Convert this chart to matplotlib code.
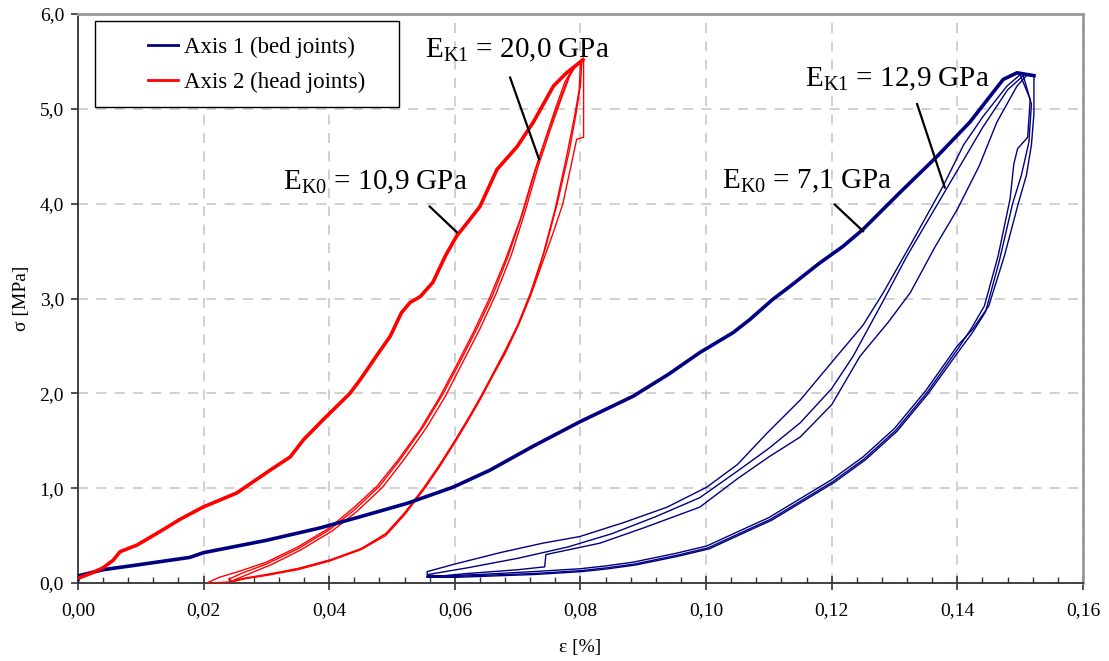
import matplotlib
matplotlib.use('Agg')
import matplotlib.pyplot as plt
from matplotlib.ticker import MultipleLocator, FuncFormatter
from matplotlib.patches import Rectangle

# Fonts (Times-like)
plt.rcParams['font.family'] = ['Liberation Serif', 'DejaVu Serif']
plt.rcParams['mathtext.fontset'] = 'custom'
plt.rcParams['mathtext.rm'] = 'Liberation Serif'
plt.rcParams['mathtext.it'] = 'Liberation Serif:italic'

# ---- data: (strain [%], stress [MPa]) ----
red_load = [(0.0000, 0.05), (0.0020, 0.10), (0.0040, 0.16), (0.0056, 0.24), (0.0067, 0.33),
            (0.0094, 0.40), (0.0135, 0.56), (0.0162, 0.67), (0.0199, 0.80), (0.0253, 0.95),
            (0.0306, 1.19), (0.0338, 1.33), (0.0359, 1.51), (0.0390, 1.72), (0.0410, 1.85),
            (0.0433, 2.00), (0.0450, 2.15), (0.0481, 2.45), (0.0497, 2.60), (0.0515, 2.85),
            (0.0529, 2.96), (0.0545, 3.02), (0.0565, 3.17), (0.0585, 3.45), (0.0603, 3.66),
            (0.0620, 3.80), (0.0640, 3.97), (0.0667, 4.36), (0.0699, 4.60), (0.0725, 4.86),
            (0.0757, 5.24), (0.0778, 5.38), (0.0799, 5.49), (0.0804, 5.52)]

red_unload_1 = [(0.0805, 5.50), (0.0805, 4.70), (0.0794, 4.68), (0.0785, 4.40), (0.0772, 4.00),
                (0.0757, 3.70), (0.0738, 3.35), (0.0720, 3.02), (0.0700, 2.70), (0.0680, 2.42),
                (0.0660, 2.18), (0.0640, 1.93), (0.0620, 1.70), (0.0600, 1.48), (0.0575, 1.22),
                (0.0550, 0.98), (0.0520, 0.72), (0.0490, 0.50), (0.0450, 0.35), (0.0400, 0.23),
                (0.0350, 0.14), (0.0300, 0.08), (0.0260, 0.04), (0.0240, 0.01), (0.0205, 0.00)]
red_reload_1 = [(0.0205, 0.00), (0.0225, 0.06), (0.0260, 0.13), (0.0300, 0.22), (0.0350, 0.38),
                (0.0400, 0.58), (0.0440, 0.80), (0.0476, 1.02), (0.0510, 1.30), (0.0545, 1.62),
                (0.0575, 1.95), (0.0603, 2.30), (0.0630, 2.65), (0.0655, 3.00), (0.0680, 3.40),
                (0.0705, 3.85), (0.0725, 4.30), (0.0745, 4.70), (0.0760, 5.00), (0.0775, 5.28),
                (0.0790, 5.45), (0.0800, 5.50)]
red_unload_2 = [(0.0800, 5.50), (0.0798, 5.20), (0.0790, 4.90), (0.0778, 4.50), (0.0760, 3.95),
                (0.0740, 3.45), (0.0720, 3.05), (0.0700, 2.72), (0.0680, 2.45), (0.0660, 2.20),
                (0.0640, 1.95), (0.0620, 1.72), (0.0600, 1.50), (0.0575, 1.24), (0.0550, 1.00),
                (0.0520, 0.74), (0.0490, 0.52), (0.0450, 0.36), (0.0400, 0.24), (0.0350, 0.15),
                (0.0300, 0.09), (0.0265, 0.05), (0.0245, 0.02)]
red_reload_2 = [(0.0245, 0.02), (0.0240, 0.04), (0.0260, 0.10), (0.0300, 0.20), (0.0350, 0.36),
                (0.0400, 0.56), (0.0440, 0.77), (0.0480, 1.02), (0.0515, 1.32), (0.0550, 1.65),
                (0.0580, 1.98), (0.0608, 2.33), (0.0635, 2.68), (0.0660, 3.03), (0.0685, 3.45),
                (0.0708, 3.90), (0.0728, 4.35), (0.0748, 4.75), (0.0765, 5.05), (0.0780, 5.32),
                (0.0793, 5.47), (0.0802, 5.50)]
red_unload_3 = [(0.0802, 5.48), (0.0800, 5.25), (0.0793, 4.95), (0.0782, 4.55), (0.0763, 4.00),
                (0.0745, 3.55), (0.0725, 3.12), (0.0705, 2.78), (0.0685, 2.50), (0.0665, 2.25),
                (0.0645, 2.00), (0.0625, 1.77), (0.0605, 1.55), (0.0580, 1.28), (0.0555, 1.03),
                (0.0525, 0.77), (0.0495, 0.54), (0.0455, 0.37), (0.0405, 0.25), (0.0355, 0.16),
                (0.0305, 0.09), (0.0268, 0.05), (0.0250, 0.02)]
red_reload_3 = [(0.0250, 0.02), (0.0248, 0.03), (0.0270, 0.09), (0.0310, 0.20), (0.0355, 0.35),
                (0.0405, 0.55), (0.0445, 0.76), (0.0485, 1.01), (0.0520, 1.31), (0.0555, 1.64),
                (0.0585, 1.97), (0.0612, 2.32), (0.0640, 2.68), (0.0665, 3.04), (0.0690, 3.46),
                (0.0712, 3.92), (0.0732, 4.38), (0.0752, 4.78), (0.0768, 5.08), (0.0783, 5.35),
                (0.0795, 5.48), (0.0805, 5.50)]

blue_load = [(0.0000, 0.03), (0.0003, 0.08), (0.0040, 0.14), (0.0094, 0.19), (0.0178, 0.27),
             (0.0200, 0.32), (0.0300, 0.45), (0.0385, 0.58), (0.0450, 0.70), (0.0524, 0.84),
             (0.0597, 1.01), (0.0656, 1.19), (0.0724, 1.44), (0.0799, 1.70), (0.0884, 1.97),
             (0.0940, 2.20), (0.0990, 2.43), (0.1043, 2.64), (0.1070, 2.78), (0.1106, 2.99),
             (0.1134, 3.13), (0.1180, 3.37), (0.1218, 3.55), (0.1250, 3.73), (0.1309, 4.12),
             (0.1368, 4.50), (0.1420, 4.86), (0.1473, 5.31), (0.1495, 5.38), (0.1522, 5.35)]

blue_unload_1 = [(0.1522, 5.35), (0.1522, 4.95), (0.1518, 4.62), (0.1510, 4.30), (0.1497, 4.00),
                 (0.1475, 3.45), (0.1450, 2.92), (0.1425, 2.68), (0.1400, 2.50), (0.1350, 2.03),
                 (0.1300, 1.63), (0.1250, 1.33), (0.1200, 1.09), (0.1150, 0.89), (0.1100, 0.69),
                 (0.1070, 0.60), (0.1001, 0.39), (0.0950, 0.31), (0.0884, 0.22), (0.0840, 0.18),
                 (0.0799, 0.15), (0.0724, 0.12), (0.0640, 0.09), (0.0600, 0.08), (0.0556, 0.07)]
blue_reload_1 = [(0.0556, 0.07), (0.0556, 0.12), (0.0600, 0.20), (0.0672, 0.32), (0.0740, 0.42),
                 (0.0799, 0.49), (0.0870, 0.64), (0.0938, 0.80), (0.1001, 1.01), (0.1050, 1.25),
                 (0.1097, 1.58), (0.1150, 1.93), (0.1208, 2.39), (0.1250, 2.72), (0.1282, 3.06),
                 (0.1330, 3.62), (0.1377, 4.18), (0.1410, 4.62), (0.1441, 4.92), (0.1479, 5.24),
                 (0.1500, 5.36)]
blue_unload_2 = [(0.1500, 5.36), (0.1516, 5.10), (0.1512, 4.70), (0.1496, 4.58), (0.1490, 4.42),
                 (0.1484, 4.05), (0.1465, 3.45), (0.1443, 2.92), (0.1422, 2.68), (0.1402, 2.48),
                 (0.1352, 2.01), (0.1302, 1.61), (0.1252, 1.31), (0.1202, 1.07), (0.1152, 0.87),
                 (0.1102, 0.67), (0.1072, 0.58), (0.1003, 0.37), (0.0952, 0.29), (0.0886, 0.20),
                 (0.0842, 0.16), (0.0800, 0.13), (0.0726, 0.10), (0.0642, 0.08), (0.0600, 0.07),
                 (0.0558, 0.08)]
blue_reload_2 = [(0.0558, 0.08), (0.0558, 0.09), (0.0620, 0.16), (0.0700, 0.26), (0.0780, 0.38),
                 (0.0850, 0.52), (0.0920, 0.70), (0.0990, 0.90), (0.1050, 1.18), (0.1100, 1.42),
                 (0.1150, 1.69), (0.1200, 2.05), (0.1234, 2.39), (0.1280, 2.95), (0.1320, 3.45),
                 (0.1360, 3.90), (0.1400, 4.35), (0.1440, 4.80), (0.1480, 5.20), (0.1505, 5.35)]
blue_unload_3 = [(0.1505, 5.35), (0.1518, 5.05), (0.1514, 4.65), (0.1502, 4.30), (0.1488, 4.00),
                 (0.1467, 3.40), (0.1445, 2.86), (0.1424, 2.64), (0.1404, 2.46), (0.1354, 2.00),
                 (0.1304, 1.60), (0.1254, 1.30), (0.1204, 1.06), (0.1154, 0.86), (0.1104, 0.66),
                 (0.1074, 0.57), (0.1005, 0.36), (0.0954, 0.28), (0.0888, 0.19), (0.0844, 0.15),
                 (0.0802, 0.12), (0.0728, 0.09), (0.0644, 0.07), (0.0602, 0.06), (0.0556, 0.06)]
blue_reload_3 = [(0.0556, 0.06), (0.0620, 0.10), (0.0700, 0.14), (0.0743, 0.17), (0.0745, 0.30),
                 (0.0831, 0.42), (0.0900, 0.58), (0.0990, 0.80), (0.1050, 1.10), (0.1100, 1.33),
                 (0.1150, 1.54), (0.1200, 1.88), (0.1245, 2.39), (0.1290, 2.75), (0.1325, 3.06),
                 (0.1365, 3.55), (0.1400, 3.94), (0.1435, 4.40), (0.1463, 4.86), (0.1495, 5.24),
                 (0.1510, 5.35)]

labels = ['Axis 1 (bed joints)', 'Axis 2 (head joints)']

# annotation texts: (label, text x, text y, leader start, leader end)
notes = [(r'E$_{\rm K1}$ = 20,0 GPa', 0.0699, 5.62, (0.0688, 5.33), (0.0734, 4.47)),
         (r'E$_{\rm K0}$ = 10,9 GPa', 0.0474, 4.22, (0.0560, 3.97), (0.0603, 3.70)),
         (r'E$_{\rm K1}$ = 12,9 GPa', 0.1304, 5.31, (0.1336, 5.05), (0.1380, 4.17)),
         (r'E$_{\rm K0}$ = 7,1 GPa', 0.1161, 4.23, (0.1205, 3.99), (0.1250, 3.71))]

blue = '#000080'
red = '#ff0000'


def xy(points):
    return [p[0] for p in points], [p[1] for p in points]


fig = plt.figure(figsize=(11.09, 6.61), dpi=100)
ax = fig.add_axes([0.0703, 0.118, 0.9062, 0.8608])

# loops (thin)
for seg in [blue_unload_1, blue_reload_1, blue_unload_2, blue_reload_2, blue_unload_3, blue_reload_3]:
    ax.plot(*xy(seg), color=blue, lw=1.0, zorder=3)
for seg in [red_unload_1, red_reload_1, red_unload_2, red_reload_2, red_unload_3, red_reload_3]:
    ax.plot(*xy(seg), color=red, lw=1.0, zorder=3)

# first loading (thick, noisy in original)
l1, = ax.plot(*xy(blue_load), color=blue, lw=2.6, zorder=4)
l2, = ax.plot(*xy(red_load), color=red, lw=2.6, zorder=4)

# annotations
for txt, tx, ty, p0, p1 in notes:
    ax.text(tx, ty, txt, fontsize=21, ha='center', va='center', zorder=6)
    ax.plot([p0[0], p1[0]], [p0[1], p1[1]], color='black', lw=1.6, zorder=6)

# axes styling
ax.set_xlim(0, 0.16)
ax.set_ylim(0, 6.0)
ax.xaxis.set_major_locator(MultipleLocator(0.02))
ax.xaxis.set_minor_locator(MultipleLocator(0.004))
ax.yaxis.set_major_locator(MultipleLocator(1.0))
ax.xaxis.set_major_formatter(FuncFormatter(lambda v, p: f'{v:.2f}'.replace('.', ',')))
ax.yaxis.set_major_formatter(FuncFormatter(lambda v, p: f'{v:.1f}'.replace('.', ',')))
ax.tick_params(axis='x', which='major', direction='inout', length=10, width=1.2,
               labelsize=14, pad=9, color='#333333')
ax.tick_params(axis='x', which='minor', direction='in', length=4, width=1.0, color='#333333')
ax.tick_params(axis='y', which='major', direction='out', length=5, width=1.2,
               labelsize=14, pad=5, color='#333333')

for side in ['left', 'bottom']:
    ax.spines[side].set_color('#333333')
    ax.spines[side].set_linewidth(1.3)
for side in ['top', 'right']:
    ax.spines[side].set_color('#999999')
    ax.spines[side].set_linewidth(2.0)

ax.grid(True, which='major', color='#c8c8c8', linestyle=(0, (6, 5)), lw=1.2)
ax.set_axisbelow(True)

ax.set_xlabel('ε [%]', fontsize=14, labelpad=14)
ax.set_ylabel('σ [MPa]', fontsize=14, labelpad=7)

# legend box
ax.add_patch(Rectangle((0.0169, 0.836), 0.303, 0.152, transform=ax.transAxes,
                       facecolor='white', edgecolor='black', lw=1.0, zorder=7))
leg = ax.legend([l1, l2], labels, loc='upper left', bbox_to_anchor=(0.0697, 0.960),
                frameon=False, fontsize=16.5, handlelength=1.3, handletextpad=0.25,
                borderpad=0, borderaxespad=0, labelspacing=0.6)
leg.set_zorder(8)
for h in leg.get_lines():
    h.set_linewidth(2.0)

fig.savefig('out.png', dpi=100)
